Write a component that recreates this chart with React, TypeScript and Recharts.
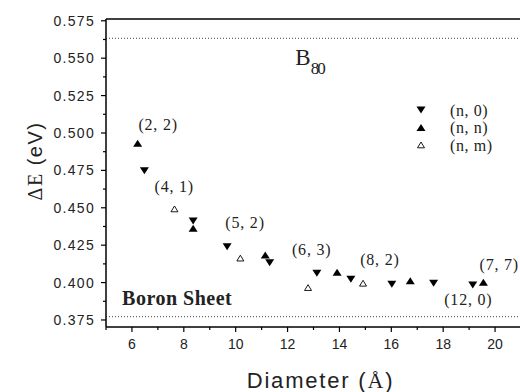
import { Label, Legend, ReferenceLine, Scatter, ScatterChart, XAxis, YAxis } from "recharts";

// diameter (Å) vs ΔE (eV)
const nZeroD = [6.48, 8.36, 9.67, 11.31, 13.13, 14.44, 16.02, 17.63, 19.14];
const nZeroE = [0.4748, 0.4412, 0.424, 0.4133, 0.4062, 0.4022, 0.3989, 0.3995, 0.3984];

const nnD = [6.22, 8.36, 11.14, 13.91, 16.73, 19.55];
const nnE = [0.4931, 0.4363, 0.4184, 0.4069, 0.4013, 0.4002];

const nmD = [7.64, 10.18, 12.79, 14.91];
const nmE = [0.4492, 0.4163, 0.3966, 0.3995];

// horizontal dotted reference levels
const b80Level = 0.5633;
const sheetLevel = 0.3772;

const xTicks = [5, 6, 7, 8, 9, 10, 11, 12, 13, 14, 15, 16, 17, 18, 19, 20, 21];
const yTicks = [
  0.375, 0.3875, 0.4, 0.4125, 0.425, 0.4375, 0.45, 0.4625, 0.475, 0.4875, 0.5, 0.5125, 0.525,
  0.5375, 0.55, 0.5625, 0.575,
];

// chirality annotations (anchor = left edge / vertical middle of the text)
const noteText = ["(2, 2)", "(4, 1)", "(5, 2)", "(6, 3)", "(8, 2)", "(7, 7)", "(12, 0)"];
const noteD = [6.25, 6.87, 9.6, 12.17, 14.8, 19.4, 18.04];
const noteE = [0.506, 0.4639, 0.44, 0.4223, 0.4156, 0.4124, 0.3884];

const toPoints = (xs: number[], ys: number[]) => xs.map((x, i) => ({ x, y: ys[i] }));

const nZero = toPoints(nZeroD, nZeroE);
const nn = toPoints(nnD, nnE);
const nm = toPoints(nmD, nmE);
const notes = noteText.map((text, i) => ({ x: noteD[i], y: noteE[i], text }));

const SANS = "'Liberation Sans', Arial, sans-serif";
const SERIF = "'Liberation Serif', 'Times New Roman', serif";

function DownTri({ cx, cy }: any) {
  return <path d={`M${cx - 4.5},${cy - 3.5}L${cx + 4.5},${cy - 3.5}L${cx},${cy + 3.5}Z`} fill="#000" />;
}

function UpTri({ cx, cy }: any) {
  return <path d={`M${cx - 4.5},${cy + 3.5}L${cx + 4.5},${cy + 3.5}L${cx},${cy - 3.5}Z`} fill="#000" />;
}

function OpenTri({ cx, cy }: any) {
  return (
    <path
      d={`M${cx - 3.5},${cy + 2.8}L${cx + 3.5},${cy + 2.8}L${cx},${cy - 3}Z`}
      fill="#fff"
      stroke="#000"
      strokeWidth={0.9}
    />
  );
}

function NoteText({ cx, cy, payload }: any) {
  return (
    <text
      x={cx}
      y={cy}
      dominantBaseline="central"
      fontFamily={SERIF}
      fontSize={16}
      letterSpacing={0.8}
      fill="#222"
    >
      {payload.text}
    </text>
  );
}

function SheetText({ cx, cy }: any) {
  return (
    <text
      x={cx}
      y={cy}
      dominantBaseline="central"
      fontFamily={SERIF}
      fontWeight="bold"
      fontSize={20}
      letterSpacing={0.5}
      fill="#222"
    >
      Boron Sheet
    </text>
  );
}

function TitleText({ cx, cy }: any) {
  return (
    <text x={cx} y={cy} fontFamily={SERIF} fill="#222">
      <tspan fontSize={23}>B</tspan>
      <tspan fontSize={17} dy={9} letterSpacing={-2}>
        80
      </tspan>
    </text>
  );
}

function XTick({ x, y, payload }: any) {
  const major = payload.value % 2 === 0;
  return (
    <g>
      <line x1={x} x2={x} y1={y} y2={y + (major ? 5 : 3)} stroke="#000" strokeWidth={1.2} />
      {major && payload.value < 21 && (
        <text x={x} y={y + 22} textAnchor="middle" fontFamily={SANS} fontSize={14} fill="#222">
          {payload.value}
        </text>
      )}
    </g>
  );
}

function YTick({ x, y, payload }: any) {
  const major = Math.round(payload.value * 1000) % 25 === 0;
  return (
    <g>
      <line x1={x} x2={x - (major ? 5 : 3)} y1={y} y2={y} stroke="#000" strokeWidth={1.2} />
      {major && (
        <text
          x={x - 11}
          y={y + 5}
          textAnchor="end"
          fontFamily={SANS}
          fontSize={14}
          letterSpacing={1.3}
          fill="#222"
        >
          {payload.value.toFixed(3)}
        </text>
      )}
    </g>
  );
}

function TopTick({ x, y }: any) {
  return <line x1={x} x2={x} y1={y} y2={y + 3} stroke="#000" strokeWidth={1} />;
}

function YTitle({ viewBox }: any) {
  const x = viewBox.x + 42;
  const y = viewBox.y + viewBox.height / 2 - 12;
  return (
    <text
      x={x}
      y={y}
      transform={`rotate(-90 ${x} ${y})`}
      textAnchor="middle"
      fontSize={20}
      letterSpacing={1.5}
      fill="#222"
    >
      <tspan fontFamily={SERIF}>ΔE</tspan>
      <tspan fontFamily={SANS}> (eV)</tspan>
    </text>
  );
}

function XTitle({ viewBox }: any) {
  const x = viewBox.x + viewBox.width / 2 + 7;
  const y = viewBox.y + 61;
  return (
    <text x={x} y={y} textAnchor="middle" fontSize={22} letterSpacing={1.8} fill="#222">
      <tspan fontFamily={SANS}>Diameter (</tspan>
      <tspan fontFamily={SERIF}>Å</tspan>
      <tspan fontFamily={SANS}>)</tspan>
    </text>
  );
}

const legendRows = [
  { name: "(n, 0)", Shape: DownTri },
  { name: "(n, n)", Shape: UpTri },
  { name: "(n, m)", Shape: OpenTri },
];

function LegendBox() {
  return (
    <svg width={100} height={56}>
      {legendRows.map(({ name, Shape }, i) => (
        <g key={name}>
          <Shape cx={11} cy={10 + i * 17.5} />
          <text
            x={40}
            y={10 + i * 17.5}
            dominantBaseline="central"
            fontFamily={SERIF}
            fontSize={16}
            letterSpacing={0.6}
            fill="#222"
          >
            {name}
          </text>
        </g>
      ))}
    </svg>
  );
}

export default function App() {
  return (
    <div style={{ position: "absolute", left: 0, top: 0, width: 520, height: 392, overflow: "hidden", background: "#fff" }}>
      <ScatterChart width={540} height={392} margin={{ top: 0, right: 19, bottom: 0, left: 0 }}>
        <XAxis
          type="number"
          dataKey="x"
          domain={[5, 21]}
          ticks={xTicks}
          interval={0}
          allowDataOverflow
          height={65}
          tickSize={0}
          tickMargin={0}
          tickLine={false}
          tick={<XTick />}
          axisLine={{ stroke: "#000", strokeWidth: 1.5 }}
        >
          <Label content={<XTitle />} />
        </XAxis>
        <XAxis
          xAxisId="top"
          orientation="top"
          type="number"
          dataKey="x"
          domain={[5, 21]}
          ticks={xTicks}
          interval={0}
          height={19}
          tickSize={0}
          tickMargin={0}
          tickLine={false}
          tick={<TopTick />}
          axisLine={{ stroke: "#000", strokeWidth: 1.5 }}
        />
        <YAxis
          type="number"
          dataKey="y"
          domain={[0.3703, 0.5762]}
          ticks={yTicks}
          interval={0}
          allowDataOverflow
          width={106}
          tickSize={0}
          tickMargin={0}
          tickLine={false}
          tick={<YTick />}
          axisLine={{ stroke: "#000", strokeWidth: 1.5 }}
        >
          <Label content={<YTitle />} />
        </YAxis>
        <ReferenceLine y={b80Level} stroke="#444" strokeDasharray="1 2" />
        <ReferenceLine y={sheetLevel} stroke="#444" strokeDasharray="1 2" />
        <Scatter name="(n, 0)" data={nZero} shape={<DownTri />} isAnimationActive={false} />
        <Scatter name="(n, n)" data={nn} shape={<UpTri />} isAnimationActive={false} />
        <Scatter name="(n, m)" data={nm} shape={<OpenTri />} isAnimationActive={false} />
        <Scatter data={notes} shape={<NoteText />} legendType="none" isAnimationActive={false} />
        <Scatter data={[{ x: 5.62, y: 0.3895 }]} shape={<SheetText />} legendType="none" isAnimationActive={false} />
        <Scatter data={[{ x: 12.3, y: 0.5455 }]} shape={<TitleText />} legendType="none" isAnimationActive={false} />
        <Legend
          layout="vertical"
          align="center"
          verticalAlign="middle"
          content={<LegendBox />}
          wrapperStyle={{ left: 410, top: 100, width: 100 }}
        />
      </ScatterChart>
    </div>
  );
}
